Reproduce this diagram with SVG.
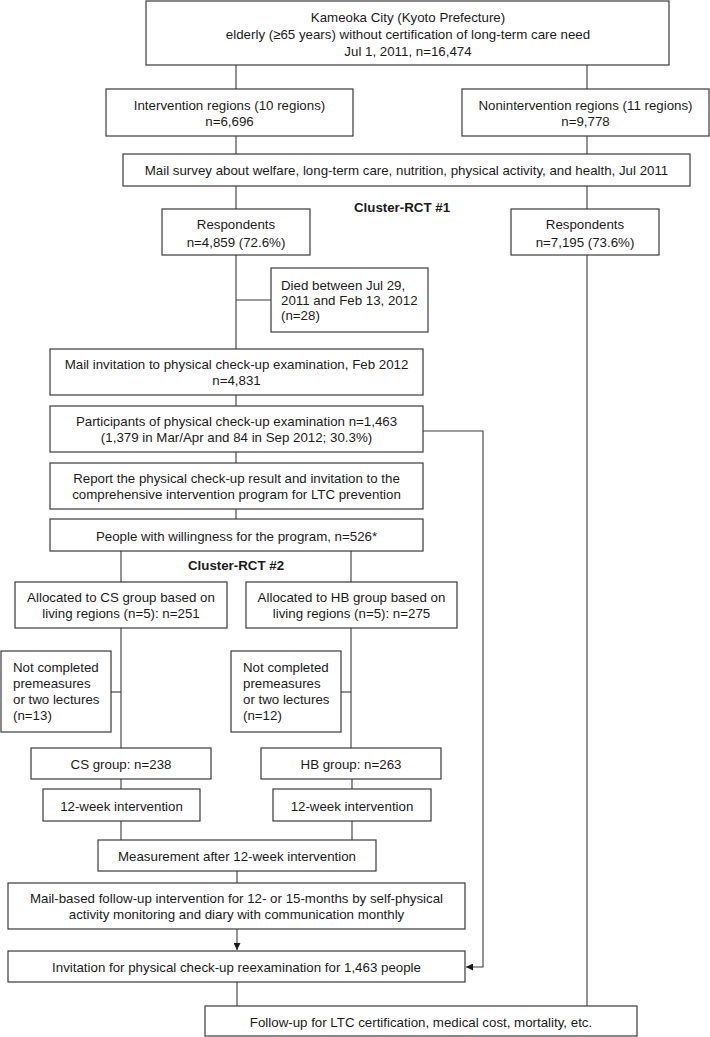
<svg xmlns="http://www.w3.org/2000/svg" width="710" height="1037" viewBox="0 0 710 1037">
<defs>
<style>
rect.b{fill:#fff;stroke:#3a3a3a;stroke-width:1.2}
text{font-family:"Liberation Sans",Arial,sans-serif;font-size:13.3px;fill:#1a1a1a}
text.c{text-anchor:middle}
text.h{font-weight:bold}
#connectors line,#connectors polyline{stroke:#3a3a3a;stroke-width:1.1;fill:none}
</style>
<marker id="arr" viewBox="0 0 10 10" refX="10" refY="5" markerWidth="7" markerHeight="7" markerUnits="userSpaceOnUse" orient="auto">
<path d="M0,0 L10,5 L0,10 z" fill="#1a1a1a"/>
</marker>
</defs>
<rect width="710" height="1037" fill="#fff"/>
<g id="connectors">
<line x1="236" y1="65" x2="236" y2="89"/>
<line x1="587" y1="65" x2="587" y2="89"/>
<line x1="236" y1="136" x2="236" y2="154"/>
<line x1="587" y1="136" x2="587" y2="154"/>
<line x1="236" y1="186" x2="236" y2="209"/>
<line x1="587" y1="186" x2="587" y2="209"/>
<line x1="236" y1="255" x2="236" y2="349"/>
<line x1="236" y1="300" x2="271" y2="300"/>
<line x1="587" y1="255" x2="587" y2="1006"/>
<line x1="236" y1="395" x2="236" y2="406"/>
<line x1="236" y1="452" x2="236" y2="463"/>
<line x1="236" y1="509" x2="236" y2="519"/>
<polyline points="423,431 483,431 483,967 466,967" marker-end="url(#arr)"/>
<line x1="121" y1="551" x2="121" y2="582"/>
<line x1="351" y1="551" x2="351" y2="582"/>
<line x1="121" y1="628" x2="121" y2="748"/>
<line x1="111" y1="692" x2="121" y2="692"/>
<line x1="351" y1="628" x2="351" y2="748"/>
<line x1="341" y1="692" x2="351" y2="692"/>
<line x1="121" y1="779" x2="121" y2="789"/>
<line x1="352" y1="779" x2="352" y2="789"/>
<line x1="121" y1="821" x2="121" y2="840"/>
<line x1="352" y1="821" x2="352" y2="840"/>
<line x1="237" y1="871" x2="237" y2="883"/>
<line x1="237" y1="929" x2="237" y2="950" marker-end="url(#arr)"/>
<line x1="237" y1="982" x2="237" y2="1006"/>
</g>
<g id="n-top"><rect class="b" x="146" y="1" width="523" height="64"/>
<text class="c" x="408" y="22">Kameoka City (Kyoto Prefecture)</text>
<text class="c" x="408" y="39">elderly (≥65 years) without certification of long-term care need</text>
<text class="c" x="408" y="56">Jul 1, 2011, n=16,474</text></g>
<g id="n-interv"><rect class="b" x="106" y="89" width="247" height="47"/>
<text class="c" x="229.5" y="110">Intervention regions (10 regions)</text>
<text class="c" x="229.5" y="126">n=6,696</text></g>
<g id="n-noninterv"><rect class="b" x="462" y="89" width="247" height="47"/>
<text class="c" x="585.5" y="110">Nonintervention regions (11 regions)</text>
<text class="c" x="585.5" y="126">n=9,778</text></g>
<g id="n-mailsurvey"><rect class="b" x="123" y="154" width="567" height="32"/>
<text class="c" x="406.5" y="175">Mail survey about welfare, long-term care, nutrition, physical activity, and health, Jul 2011</text></g>
<g id="lbl-rct1"><text class="c h" x="402" y="211.5">Cluster-RCT #1</text></g>
<g id="n-resp-l"><rect class="b" x="162" y="209" width="148" height="46"/>
<text class="c" x="236" y="229">Respondents</text>
<text class="c" x="236" y="246.5">n=4,859 (72.6%)</text></g>
<g id="n-resp-r"><rect class="b" x="511" y="209" width="148" height="46"/>
<text class="c" x="585" y="229">Respondents</text>
<text class="c" x="585" y="246.5">n=7,195 (73.6%)</text></g>
<g id="n-died"><rect class="b" x="271" y="268" width="157" height="64"/>
<text x="281" y="290">Died between Jul 29,</text>
<text x="281" y="305">2011 and Feb 13, 2012</text>
<text x="281" y="320">(n=28)</text></g>
<g id="n-mailinv"><rect class="b" x="50" y="349" width="373" height="46"/>
<text class="c" x="236.5" y="369">Mail invitation to physical check-up examination, Feb 2012</text>
<text class="c" x="236.5" y="385">n=4,831</text></g>
<g id="n-particip"><rect class="b" x="50" y="406" width="373" height="46"/>
<text class="c" x="236.5" y="426">Participants of physical check-up examination n=1,463</text>
<text class="c" x="236.5" y="442">(1,379 in Mar/Apr and 84 in Sep 2012; 30.3%)</text></g>
<g id="n-report"><rect class="b" x="50" y="463" width="373" height="46"/>
<text class="c" x="236.5" y="483">Report the physical check-up result and invitation to the</text>
<text class="c" x="236.5" y="499">comprehensive intervention program for LTC prevention</text></g>
<g id="n-people"><rect class="b" x="50" y="519" width="373" height="32"/>
<text class="c" x="236.5" y="540.5">People with willingness for the program, n=526*</text></g>
<g id="lbl-rct2"><text class="c h" x="236" y="569.5">Cluster-RCT #2</text></g>
<g id="n-alloc-cs"><rect class="b" x="15" y="582" width="212" height="46"/>
<text class="c" x="121" y="602">Allocated to CS group based on</text>
<text class="c" x="121" y="618">living regions (n=5): n=251</text></g>
<g id="n-alloc-hb"><rect class="b" x="246" y="582" width="211" height="46"/>
<text class="c" x="351.5" y="602">Allocated to HB group based on</text>
<text class="c" x="351.5" y="618">living regions (n=5): n=275</text></g>
<g id="n-nc-cs"><rect class="b" x="1" y="651" width="110" height="81"/>
<text x="13" y="672">Not completed</text>
<text x="13" y="688">premeasures</text>
<text x="13" y="704">or two lectures</text>
<text x="13" y="720">(n=13)</text></g>
<g id="n-nc-hb"><rect class="b" x="231" y="651" width="110" height="81"/>
<text x="243" y="672">Not completed</text>
<text x="243" y="688">premeasures</text>
<text x="243" y="704">or two lectures</text>
<text x="243" y="720">(n=12)</text></g>
<g id="n-cs"><rect class="b" x="31" y="748" width="180" height="31"/>
<text class="c" x="121" y="769">CS group: n=238</text></g>
<g id="n-hb"><rect class="b" x="261" y="748" width="180" height="31"/>
<text class="c" x="351" y="769">HB group: n=263</text></g>
<g id="n-12w-cs"><rect class="b" x="43" y="789" width="157" height="32"/>
<text class="c" x="121.5" y="810.5">12-week intervention</text></g>
<g id="n-12w-hb"><rect class="b" x="273" y="789" width="158" height="32"/>
<text class="c" x="352" y="810.5">12-week intervention</text></g>
<g id="n-measure"><rect class="b" x="98" y="840" width="278" height="31"/>
<text class="c" x="237" y="861">Measurement after 12-week intervention</text></g>
<g id="n-mailfollow"><rect class="b" x="8" y="883" width="457" height="46"/>
<text class="c" x="236.5" y="903">Mail-based follow-up intervention for 12- or 15-months by self-physical</text>
<text class="c" x="236.5" y="919">activity monitoring and diary with communication monthly</text></g>
<g id="n-reexam"><rect class="b" x="8" y="951" width="457" height="31"/>
<text class="c" x="236.5" y="972">Invitation for physical check-up reexamination for 1,463 people</text></g>
<g id="n-followup"><rect class="b" x="205" y="1006" width="432" height="30"/>
<text class="c" x="421" y="1026.5">Follow-up for LTC certification, medical cost, mortality, etc.</text></g>
</svg>
